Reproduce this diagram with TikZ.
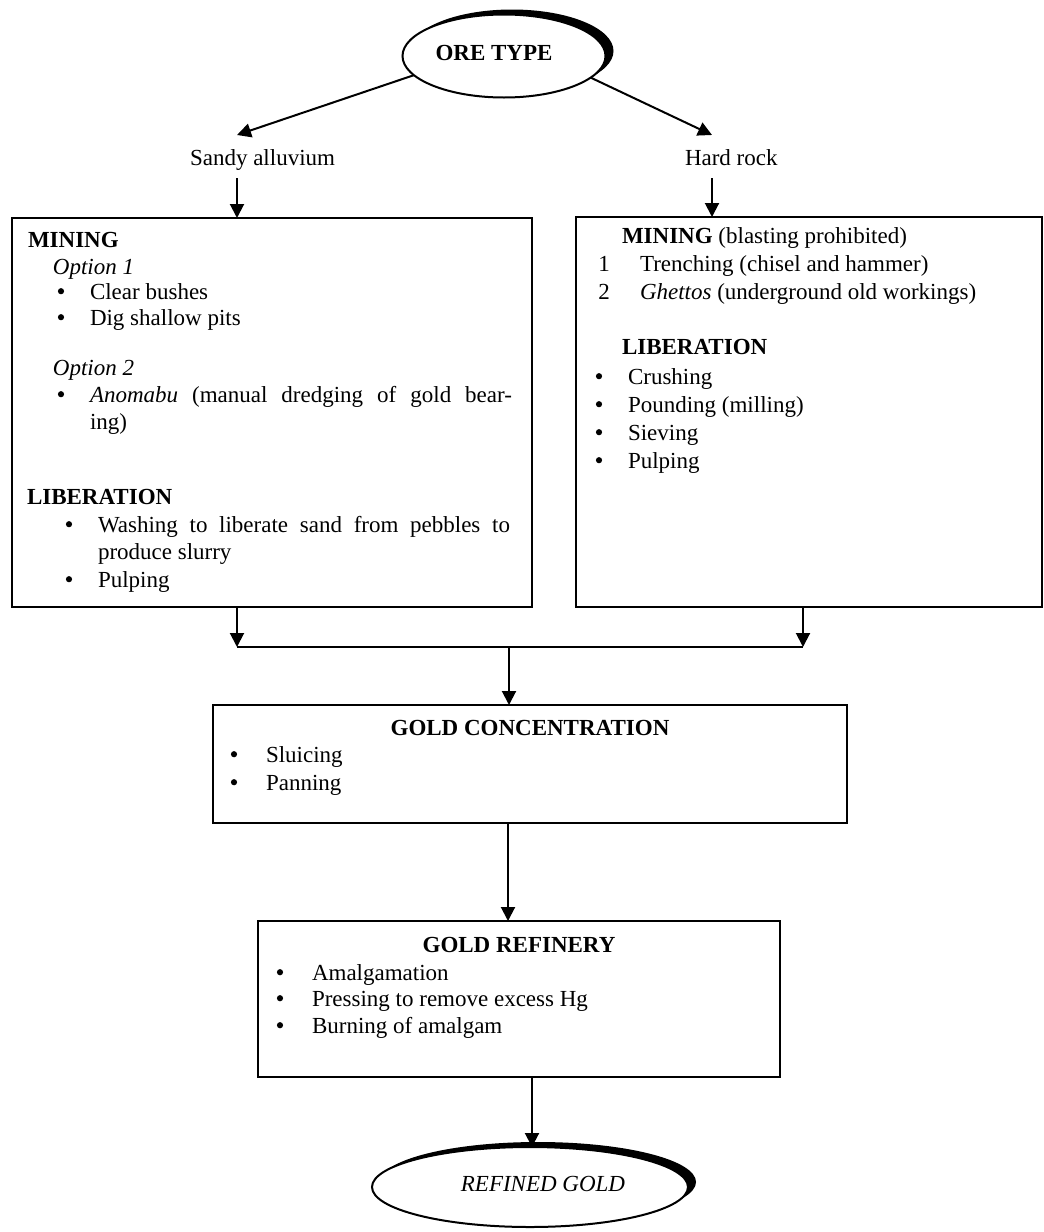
\documentclass[tikz,border=0pt]{standalone}
\usepackage{fontspec}
\setmainfont{Liberation Serif}
\usetikzlibrary{arrows.meta,shapes.geometric,shadows}
\newcommand\fs{\fontsize{11.5pt}{13.5pt}\selectfont}
\begin{document}
\begin{tikzpicture}[x=0.5pt,y=-0.5pt,
  txt/.style={inner sep=0pt, outer sep=0pt, anchor=base west, font=\fs},
  ctxt/.style={txt, anchor=base},
  bul/.style={circle, fill=black, draw=none, inner sep=0pt, outer sep=0pt, minimum size=3.1pt, yshift=3.9pt},
  boxst/.style={draw, line width=1.3pt, rectangle, inner sep=0pt, outer sep=0pt, anchor=north west},
  ell/.style={draw, line width=1pt, ellipse, inner sep=0pt, outer sep=0pt, fill=white,
    general shadow={fill=black, shadow xshift=4pt, shadow yshift=2.5pt}},
  conn/.style={line width=1pt},
  arr/.style={conn, -{Triangle[length=7pt,width=7pt]}}
]
\useasboundingbox (0,0) rectangle (1044,1232);

% ellipses
\node[ell, minimum width=101.5pt, minimum height=41.5pt] (ore) at (504,56) {};
\node[txt, anchor=center, font=\fs\bfseries] (oret) at (494,53) {ORE TYPE};
\node[ell, minimum width=158pt, minimum height=40pt] (bell) at (530,1187) {};
\node[txt, anchor=center, font=\fs\itshape] (bellt) at (543,1184) {REFINED GOLD};

% branch labels
\node[txt] (sandy) at (190,165) {Sandy alluvium};
\node[txt] (hard) at (685,165) {Hard rock};

% boxes
\node[boxst, minimum width=260pt, minimum height=194.5pt] (lbox) at (12,218) {};
\node[boxst, minimum width=233pt, minimum height=195pt] (rbox) at (576,217) {};
\node[boxst, minimum width=317pt, minimum height=59pt] (conc) at (213,705) {};
\node[boxst, minimum width=261pt, minimum height=78pt] (ref) at (258,921) {};

% left box text
\node[txt, font=\fs\bfseries] (lmin) at (28,247) {MINING};
\node[txt, font=\fs\itshape] (lo1) at (53,274) {Option 1};
\node[bul] (lb1) at (61,299) {};
\node[txt] (lt1) at (90,299) {Clear bushes};
\node[bul] (lb2) at (61,325) {};
\node[txt] (lt2) at (90,325) {Dig shallow pits};
\node[txt, font=\fs\itshape] (lo2) at (53,375) {Option 2};
\node[bul] (lb3) at (61,402) {};
\node[txt] (lt3) at (90,402) {\makebox[211pt][s]{\textit{Anomabu} (manual dredging of gold bear-}};
\node[txt] (lt3b) at (90,429) {ing)};
\node[txt, font=\fs\bfseries] (llib) at (27,504) {LIBERATION};
\node[bul] (lb4) at (69,532) {};
\node[txt] (lt4) at (98,532) {\makebox[206pt][s]{Washing to liberate sand from pebbles to}};
\node[txt] (lt4b) at (98,559) {produce slurry};
\node[bul] (lb5) at (69,587) {};
\node[txt] (lt5) at (98,587) {Pulping};

% right box text
\node[txt] (rmin) at (622,243) {\textbf{MINING} (blasting prohibited)};
\node[ctxt] (rn1) at (604,271) {1};
\node[txt] (rt1) at (640,271) {Trenching (chisel and hammer)};
\node[ctxt] (rn2) at (604,299) {2};
\node[txt] (rt2) at (640,299) {\textit{Ghettos} (underground old workings)};
\node[txt, font=\fs\bfseries] (rlib) at (622,354) {LIBERATION};
\node[bul] (rb1) at (599,384) {};
\node[txt] (rl1) at (628,384) {Crushing};
\node[bul] (rb2) at (599,412) {};
\node[txt] (rl2) at (628,412) {Pounding (milling)};
\node[bul] (rb3) at (599,440) {};
\node[txt] (rl3) at (628,440) {Sieving};
\node[bul] (rb4) at (599,468) {};
\node[txt] (rl4) at (628,468) {Pulping};

% concentration text
\node[ctxt, font=\fs\bfseries] (ctit) at (530,735) {GOLD CONCENTRATION};
\node[bul] (cb1) at (234,762) {};
\node[txt] (ct1) at (266,762) {Sluicing};
\node[bul] (cb2) at (234,790) {};
\node[txt] (ct2) at (266,790) {Panning};

% refinery text
\node[ctxt, font=\fs\bfseries] (rtit) at (519,952) {GOLD REFINERY};
\node[bul] (fb1) at (280,980) {};
\node[txt] (ft1) at (312,980) {Amalgamation};
\node[bul] (fb2) at (280,1006) {};
\node[txt] (ft2) at (312,1006) {Pressing to remove excess Hg};
\node[bul] (fb3) at (280,1033) {};
\node[txt] (ft3) at (312,1033) {Burning of amalgam};

% coordinates for connector ends
\coordinate (stip) at (237,135);
\coordinate (htip) at (712,135);
\coordinate (sbot) at (237,178);
\coordinate (hbot) at (712,178);
\coordinate (jL) at (237,647);
\coordinate (jR) at (803,647);
\coordinate (jM) at (509,647);
\coordinate (xC) at (508,0);
\coordinate (xB) at (532,0);

% connectors
\draw[arr] (ore.192) -- (stip);
\draw[arr] (ore.-14) -- (htip);
\draw[arr] (sbot) -- (sbot |- lbox.north);
\draw[arr] (hbot) -- (hbot |- rbox.north);
\draw[arr] (lbox.south -| jL) -- (jL);
\draw[arr] (rbox.south -| jR) -- (jR);
\draw[conn] (jL) -- (jR);
\draw[arr] (jM) -- (jM |- conc.north);
\draw[arr] (conc.south -| xC) -- (xC |- ref.north);
\draw[arr] (ref.south -| xB) -- (xB |- bell.north);
\end{tikzpicture}
\end{document}
